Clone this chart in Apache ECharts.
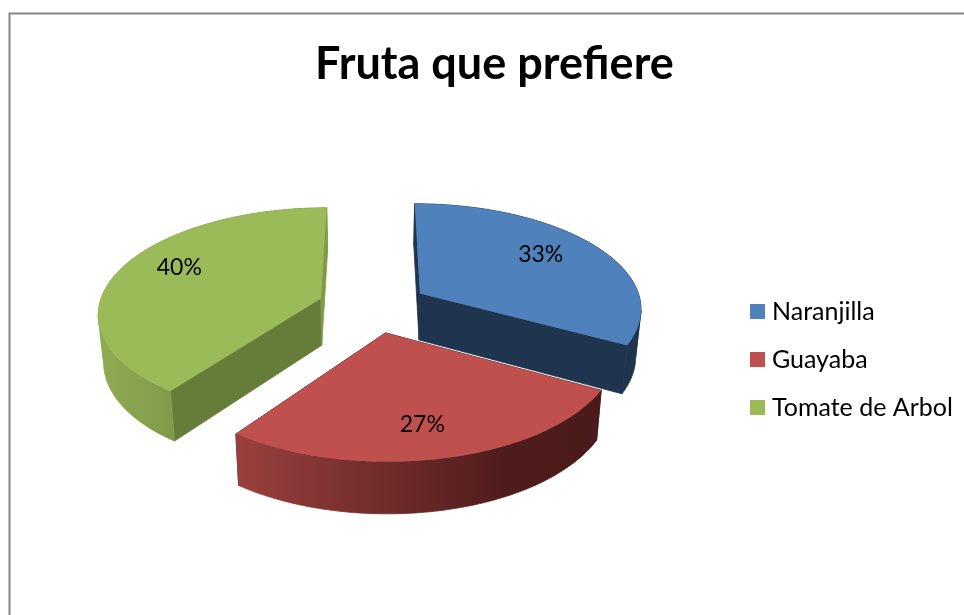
<!DOCTYPE html>
<html>
<head>
<meta charset="utf-8">
<title>Fruta que prefiere</title>
<script src="https://cdn.jsdelivr.net/npm/echarts@6/dist/echarts.min.js"></script>
<style>
  html, body { margin: 0; padding: 0; background: #fff; }
  #chart { width: 964px; height: 615px; }
</style>
</head>
<body>
<div id="chart"></div>
<script>
const chartTitle = 'Fruta que prefiere'
const categories = ['Naranjilla', 'Guayaba', 'Tomate de Arbol']
const percents = [33, 27, 40]
const topColors = ['#4F81BD', '#C0504D', '#9BBB59']

// caras laterales de cada porcion: borde inicial, borde final, canto
const startWallColors = ['#1F344F', '#4E1C1B', '#667D3A']
const endWallColors = ['#1F344F', '#4E1C1B', '#7F9A48']
const rimStops = [
  [[0, '#1F344F'], [1, '#1F344F']],
  [[0, '#9A403E'], [0.45, '#6C2A29'], [0.75, '#4E1C1B'], [1, '#4A1B1A']],
  [[0, '#8FAC52'], [0.35, '#7F9A48'], [1, '#7F9A48']]
]
const labelRadius = [0.715, 0.755, 0.746]
const labelTurn = [-3.5, 2, 6.5]

// proyeccion del pastel
const cx = 373, cy = 306.5, radiusX = 222, radiusY = 104.5
const persp = 0.13, explode = 0.25, depth = 47, shrink = 0.02
const total = percents.reduce((a, b) => a + b, 0)

function project(u, v) {
  const s = 1 / (1 + persp * v)
  return [cx + radiusX * u * s, cy - radiusY * v * s]
}
function drop(u, v) {
  const p = project(u, v)
  return [cx + (p[0] - cx) * (1 - shrink), p[1] + depth * (1 - 0.09 * v)]
}

function sliceItem(index) {
  return function (params, api) {
    const value = api.value(0)
    let before = 0
    for (let i = 0; i < index; i++) before += percents[i]
    const a0 = before / total * Math.PI * 2
    const a1 = (before + value) / total * Math.PI * 2
    const mid = (a0 + a1) / 2
    const ox = Math.sin(mid) * explode
    const oy = Math.cos(mid) * explode
    const topArc = []
    const botArc = []
    const steps = Math.ceil((a1 - a0) / 0.02)
    for (let i = 0; i <= steps; i++) {
      const t = a0 + (a1 - a0) * i / steps
      const u = ox + Math.sin(t), v = oy + Math.cos(t)
      topArc.push(project(u, v))
      botArc.push(drop(u, v))
    }
    const apex = project(ox, oy)
    const apexLow = drop(ox, oy)
    const poly = (points, fill) => ({
      type: 'polygon',
      shape: { points: points },
      style: { fill: fill }
    })
    // con trazo para que no quede una costura clara entre caras
    const side = (points, fill) => ({
      type: 'polygon',
      shape: { points: points },
      style: { fill: fill, stroke: fill, lineWidth: 0.8 }
    })

    // el canto se parte en el extremo horizontal, si no el relleno deja un hueco al doblarse
    const xs = topArc.map(p => p[0])
    const minX = Math.min.apply(null, xs), maxX = Math.max.apply(null, xs)
    const rimFill = {
      type: 'linear', global: true, x: minX, y: 0, x2: maxX, y2: 0,
      colorStops: rimStops[index].map(s => ({ offset: s[0], color: s[1] }))
    }
    const rimPart = (from, to) => side(
      topArc.slice(from, to + 1).concat(botArc.slice(from, to + 1).reverse()),
      rimFill
    )
    const turn = Math.max(xs.indexOf(minX), xs.indexOf(maxX)) === steps
      ? Math.min(xs.indexOf(minX), xs.indexOf(maxX))
      : Math.max(xs.indexOf(minX), xs.indexOf(maxX))
    const rim = turn > 0 && turn < steps
      ? [rimPart(0, turn), rimPart(turn, steps)]
      : [rimPart(0, steps)]

    const la = mid + labelTurn[index] * Math.PI / 180
    const lr = labelRadius[index]
    const labelPos = project(ox + Math.sin(la) * lr, oy + Math.cos(la) * lr)
    return {
      type: 'group',
      children: [
        side([apex, topArc[0], botArc[0], apexLow], startWallColors[index]),
        side([apex, topArc[steps], botArc[steps], apexLow], endWallColors[index])
      ].concat(rim, [
        poly([apex].concat(topArc), topColors[index]),
        {
          type: 'text',
          x: labelPos[0],
          y: labelPos[1],
          style: {
            text: value + '%',
            fill: '#000',
            font: '23px Lato',
            align: 'center',
            verticalAlign: 'middle'
          }
        }
      ])
    }
  }
}

const chart = echarts.init(document.getElementById('chart'))
chart.setOption({
  animation: false,
  title: {
    text: chartTitle,
    left: 310,
    top: 37,
    textStyle: { fontFamily: 'Lato', fontWeight: 'bold', fontSize: 45, color: '#000' }
  },
  legend: {
    orient: 'vertical',
    left: 745,
    top: 294,
    icon: 'rect',
    itemWidth: 15,
    itemHeight: 15,
    itemGap: 23,
    data: categories,
    textStyle: { fontFamily: 'Lato', fontSize: 25, color: '#000', padding: [0, 0, 0, 2] }
  },
  graphic: [{
    type: 'rect',
    silent: true,
    shape: { x: 9.5, y: 13.5, width: 1100, height: 800 },
    style: { fill: 'none', stroke: '#868686', lineWidth: 2 }
  }],
  series: categories.map((name, i) => ({
    name: name,
    type: 'custom',
    coordinateSystem: 'none',
    itemStyle: { color: topColors[i] },
    renderItem: sliceItem(i),
    data: [percents[i]]
  }))
})
</script>
</body>
</html>
